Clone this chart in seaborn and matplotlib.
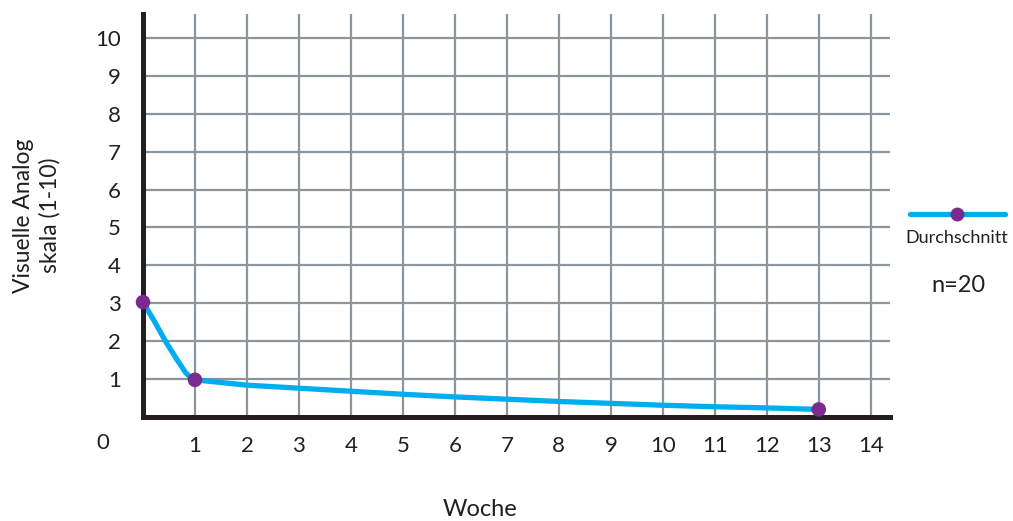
import matplotlib
matplotlib.use("Agg")
import matplotlib.pyplot as plt
from matplotlib.lines import Line2D
import seaborn as sns
import pandas as pd

# ---- data ----
weeks = [0, 1, 13]
vas_mean = [3.03, 0.98, 0.2]

curve_weeks = [0, 0.2, 0.45, 0.65, 0.82, 0.92, 1, 2, 3, 4, 5, 6, 7, 8, 9, 10, 11, 12, 13]
curve_vals = [3.03, 2.57, 1.96, 1.52, 1.17, 1.04, 0.98, 0.84, 0.76, 0.68, 0.60, 0.53,
              0.47, 0.41, 0.36, 0.31, 0.27, 0.24, 0.20]

x_ticks = list(range(1, 15))
y_ticks = list(range(1, 11))
series_label = "Durchschnitt"
n_label = "n=20"
x_label = "Woche"
y_label = "Visuelle Analog\nskala (1-10)"

LINE_C = "#00AEEF"
DOT_C = "#7B2A8E"
GRID_C = "#8C959B"
AX_C = "#231F20"
TXT_C = "#231F20"

sns.set_theme(style="white")
plt.rcParams["font.family"] = ["Lato", "DejaVu Sans"]
plt.rcParams["font.weight"] = "normal"

W, H = 1013, 521
fig = plt.figure(figsize=(W / 100, H / 100), dpi=100)
ax = fig.add_axes([143 / W, 1 - 417 / H, (890 - 143) / W, (417 - 14) / H])

df_curve = pd.DataFrame({"Woche": curve_weeks, "VAS": curve_vals})
df_pts = pd.DataFrame({"Woche": weeks, "VAS": vas_mean})

sns.lineplot(data=df_curve, x="Woche", y="VAS", ax=ax, color=LINE_C,
             linewidth=3.8, sort=False, zorder=3, solid_capstyle="round",
             solid_joinstyle="round")
sns.scatterplot(data=df_pts, x="Woche", y="VAS", ax=ax, color=DOT_C,
                s=110, edgecolor="none", zorder=6, clip_on=False)

ax.set_xlim(0, 14.37)
ax.set_ylim(0, 10.63)
ax.set_xticks(x_ticks)
ax.set_yticks(y_ticks)
ax.set_xticklabels([str(t) for t in x_ticks])
ax.set_yticklabels([str(t) for t in y_ticks])

ax.grid(True, color=GRID_C, linewidth=1.6, zorder=1)
ax.set_axisbelow(True)
for s in ["top", "right"]:
    ax.spines[s].set_visible(False)
for s in ["left", "bottom"]:
    ax.spines[s].set_color(AX_C)
    ax.spines[s].set_linewidth(3.6)
    ax.spines[s].set_zorder(5)

ax.tick_params(axis="both", which="major", direction="out", length=6,
               width=1.6, color=AX_C, labelsize=16, labelcolor=TXT_C)
ax.tick_params(axis="x", pad=8)
ax.tick_params(axis="y", pad=10)

ax.set_xlabel("")
ax.set_ylabel(y_label, fontsize=16.5, color=TXT_C, labelpad=25, linespacing=1.25)

# separate origin label
fig.text(103 / W, 1 - 443 / H, "0", fontsize=16, color=TXT_C,
         ha="center", va="center")

# x label
fig.text(480 / W, 1 - 510 / H, x_label, fontsize=17, color=TXT_C,
         ha="center", va="center")

# legend drawn at right
ly = 1 - 214 / H
fig.add_artist(Line2D([910 / W, 1005 / W], [ly, ly], transform=fig.transFigure,
                      color=LINE_C, linewidth=3.8))
fig.add_artist(Line2D([957 / W], [ly], transform=fig.transFigure, marker="o",
                      markersize=10, color=DOT_C, markeredgewidth=0))
fig.text(957 / W, 1 - 238 / H, series_label, fontsize=13, color=TXT_C,
         ha="center", va="center")
fig.text(958 / W, 1 - 285 / H, n_label, fontsize=17, color=TXT_C,
         ha="center", va="center")

fig.savefig("out.png", dpi=100)
